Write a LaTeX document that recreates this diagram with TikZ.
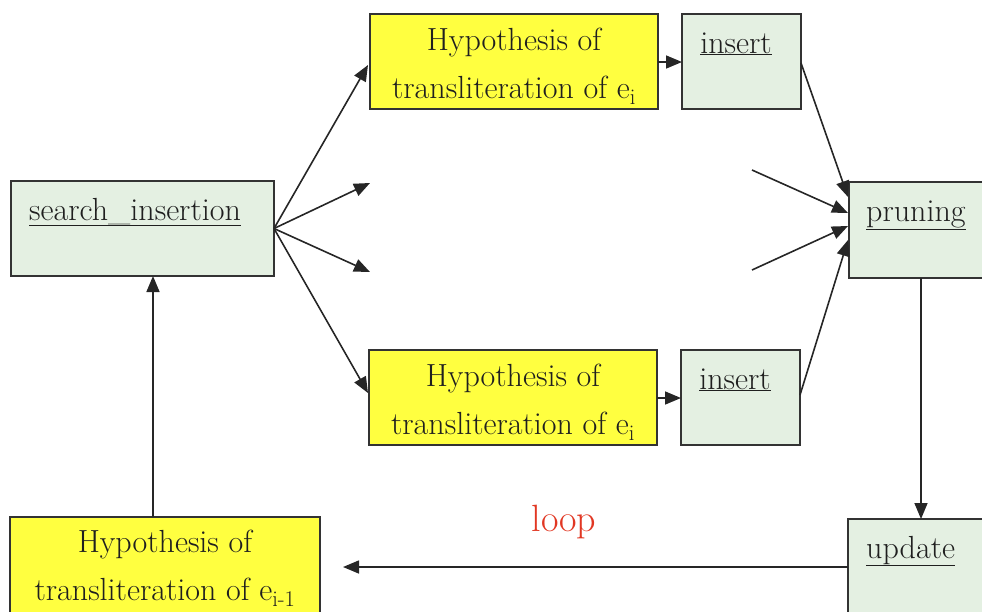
\documentclass[tikz,border=0pt]{standalone}
\usetikzlibrary{arrows.meta}
\begin{document}
\begin{tikzpicture}[x=1pt,y=-1pt,
  box/.style={draw=black!80,line width=1.8pt,inner sep=0pt,outer sep=0pt},
  greenbox/.style={box,fill={rgb,255:red,228;green,240;blue,226}},
  yellowbox/.style={box,fill={rgb,255:red,255;green,255;blue,64}},
  txt/.style={font=\fontsize{32}{48}\selectfont,align=center,text=black!88,inner sep=0pt},
  arr/.style={line width=1.6pt,draw=black!85,-{Triangle[length=16pt,width=13pt]}},
  ln/.style={line width=1.6pt,draw=black!85}
]
\useasboundingbox (0,0) rectangle (982,611);
% boxes
\node[greenbox,minimum width=263pt,minimum height=95pt] (si) at (142.5,228.5) {};
\node[txt,anchor=base west] (sit) at (29,220) {\underline{search\_insertion}};
\node[yellowbox,minimum width=288pt,minimum height=95pt] (h1) at (514,61.5) {};
\node[txt] (h1t) at (514,66) {Hypothesis of\\transliteration of e\textsubscript{i}};
\node[greenbox,minimum width=119pt,minimum height=95pt] (i1) at (741.5,61.5) {};
\node[txt,anchor=base] (i1t) at (736,53) {\underline{insert}};
\node[yellowbox,minimum width=288pt,minimum height=95pt] (h2) at (513,397.5) {};
\node[txt] (h2t) at (513,402) {Hypothesis of\\transliteration of e\textsubscript{i}};
\node[greenbox,minimum width=119pt,minimum height=95pt] (i2) at (740.5,397.5) {};
\node[txt,anchor=base] (i2t) at (735,389) {\underline{insert}};
\node[greenbox,minimum width=140pt,minimum height=96pt] (pr) at (919,230) {};
\node[txt,anchor=base west] (prt) at (866,221) {\underline{pruning}};
\node[greenbox,minimum width=140pt,minimum height=100pt] (up) at (918,569) {};
\node[txt,anchor=base west] (upt) at (866,558) {\underline{update}};
\node[yellowbox,minimum width=310pt,minimum height=100pt] (h0) at (165,567) {};
\node[txt] (h0t) at (165,568) {Hypothesis of\\transliteration of e\textsubscript{i-1}};
\node[font=\fontsize{38}{44}\selectfont,text={rgb,255:red,225;green,55;blue,35},inner sep=0pt] (loop) at (564,522) {loop};
% coordinates
\coordinate (s1) at (368,65);
\coordinate (s2) at (370,183);
\coordinate (s3) at (370,272);
\coordinate (s4) at (368,393);
\coordinate (f1) at (752,170);
\coordinate (f2) at (752,270);
\coordinate (p1) at (848,197);
\coordinate (p2) at (848,213);
\coordinate (p3) at (848,226);
\coordinate (p4) at (848,240);
% connectors
\draw[arr] (si.east) -- (s1);
\draw[arr] (si.east) -- (s2);
\draw[arr] (si.east) -- (s3);
\draw[arr] (si.east) -- (s4);
\draw[arr] (h1.east |- 0,62) -- (i1.west |- 0,62);
\draw[arr] (h2.east |- 0,398) -- (i2.west |- 0,398);
\draw[arr] (i1.east |- 0,63) -- (p1);
\draw[arr] (f1) -- (p2);
\draw[arr] (f2) -- (p3);
\draw[arr] (i2.east |- 0,395) -- (p4);
\draw[arr] (pr.south -| 921,0) -- (up.north -| 921,0);
\draw[arr] (up.west |- 0,567) -- (343,567);
\draw[arr] (h0.north -| 153,0) -- (si.south -| 153,0);
\end{tikzpicture}
\end{document}
